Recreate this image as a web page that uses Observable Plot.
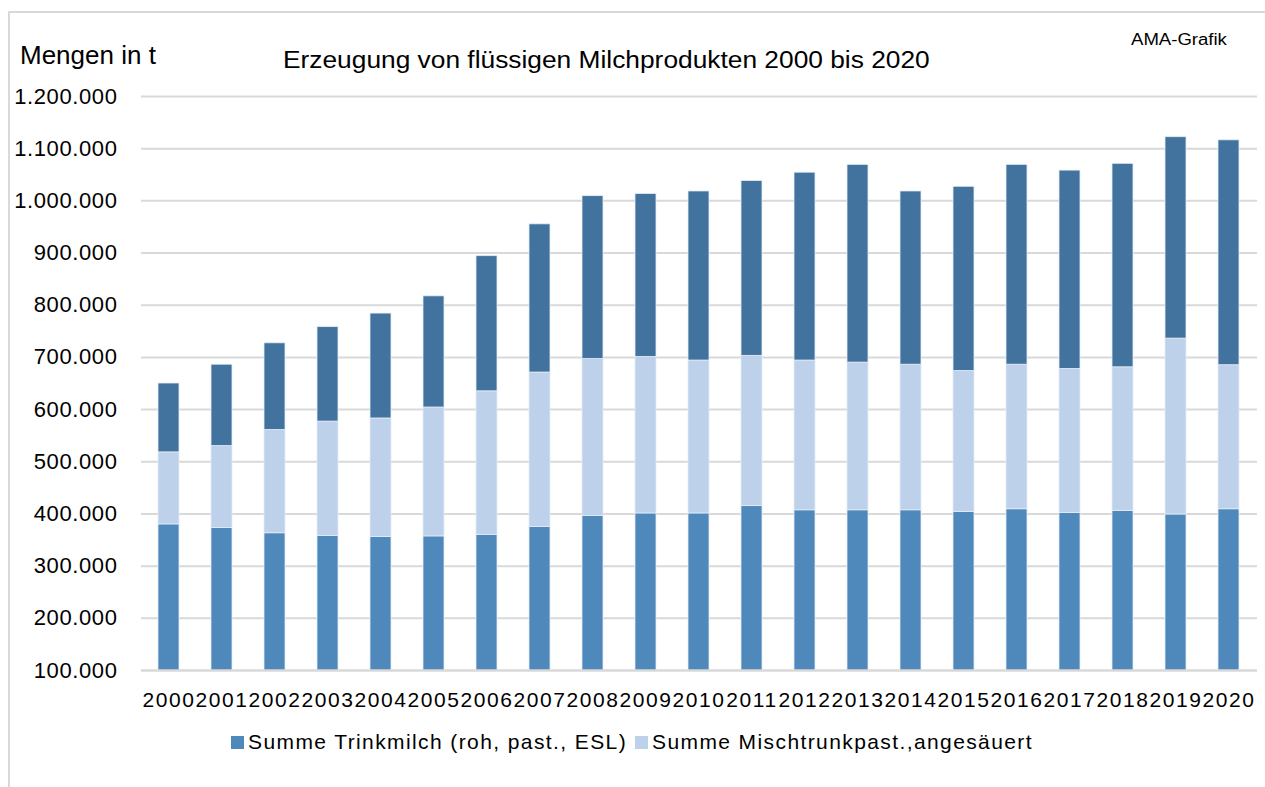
<!DOCTYPE html>
<html>
<head>
<meta charset="utf-8">
<script src="https://cdn.jsdelivr.net/npm/d3@7"></script>
<script src="https://cdn.jsdelivr.net/npm/@observablehq/plot@0.6"></script>
<style>
  html, body { margin: 0; padding: 0; background: #fff; }
  body { width: 1265px; height: 787px; position: relative; overflow: hidden; font-family: "Liberation Sans", Arial, sans-serif; color: #000; }
  .frame { position: absolute; left: 8px; top: 11px; width: 1300px; height: 800px; border-left: 2px solid #d9d9d9; border-top: 2px solid #d9d9d9; }
  .abs { position: absolute; white-space: nowrap; line-height: 1; transform-origin: 0 0; }
  #chart { position: absolute; left: 0; top: 0; }
  #chart g[aria-label="x-axis tick label"] text { letter-spacing: 1.6px; }
  #chart g[aria-label="y-axis tick label"] text { letter-spacing: 0.6px; }
  .legend { position: absolute; top: 730px; left: 231px; display: flex; align-items: center; font-size: 21px; letter-spacing: 1.4px; }
  .legend .sw { width: 13px; height: 13px; display: inline-block; margin-right: 4px; }
  .legend .item { display: flex; align-items: center; margin-right: 8px; }
</style>
</head>
<body>
<div class="frame"></div>
<div class="abs" style="left:20px; top:42px; font-size:26px;">Mengen in t</div>
<div class="abs" style="left:283px; top:49px; font-size:23.5px; transform: scaleX(1.12);">Erzeugung von flüssigen Milchprodukten 2000 bis 2020</div>
<div class="abs" style="left:1131px; top:32px; font-size:16px; transform: scaleX(1.16);">AMA-Grafik</div>
<div id="chart"></div>
<div class="legend" id="legend"></div>
<script>
// Data (tonnes)
const years = ["2000","2001","2002","2003","2004","2005","2006","2007","2008","2009","2010",
               "2011","2012","2013","2014","2015","2016","2017","2018","2019","2020"];
const trinkmilch = [380000, 373000, 363000, 358000, 356000, 357000, 360000, 375000, 396000, 401000, 401000,
                    415000, 407000, 407000, 407000, 404000, 409000, 402000, 406000, 399000, 409000];
const mischtrunk = [138000, 157000, 198000, 219000, 227000, 247000, 275000, 296000, 301000, 300000, 293000,
                    288000, 287000, 283000, 279000, 270000, 277000, 276000, 275000, 337000, 276000];
const sonstige   = [132000, 156000, 166000, 181000, 201000, 213000, 259000, 284000, 312000, 312000, 324000,
                    335000, 360000, 379000, 332000, 353000, 383000, 380000, 390000, 386000, 431000];
const seriesNames = ["Summe Trinkmilch (roh, past., ESL)", "Summe Mischtrunkpast.,angesäuert", "Summe sonstige flüssige Milchprodukte"];
const seriesColors = ["#4f88bb", "#bdd1ea", "#42739f"];
const legendNames = seriesNames.slice(0, 2);
const yTicks = [100000, 200000, 300000, 400000, 500000, 600000, 700000, 800000, 900000, 1000000, 1100000, 1200000];

const rows = [];
const seriesValues = [trinkmilch, mischtrunk, sonstige];
years.forEach((yr, i) => {
  seriesValues.forEach((vals, s) => rows.push({year: yr, series: seriesNames[s], value: vals[i]}));
});

const de = d3.formatLocale({decimal: ",", thousands: ".", grouping: [3], currency: ["", " €"]});
const fmt = de.format(",.0f");

const chart = Plot.plot({
  width: 1265,
  height: 730,
  marginLeft: 141,
  marginRight: 8,
  marginTop: 96,
  marginBottom: 60,
  style: {fontFamily: "Liberation Sans, Arial, sans-serif", fontSize: "22px", color: "#000", background: "transparent", overflow: "visible"},
  x: {domain: years, paddingInner: 0.6, paddingOuter: 0.3, label: null},
  y: {domain: [100000, 1200000], ticks: yTicks, tickFormat: fmt, label: null},
  color: {domain: seriesNames, range: seriesColors},
  marks: [
    Plot.ruleY(yTicks.slice(1), {stroke: "#d9d9d9", strokeWidth: 2}),
    Plot.barY(rows, {x: "year", y: "value", fill: "series", stroke: "#e4ecf6", strokeWidth: 0.8, clip: true}),
    Plot.ruleY([100000], {stroke: "#d9d9d9", strokeWidth: 2.5}),
    Plot.axisY({ticks: yTicks, tickFormat: fmt, tickSize: 0, tickPadding: 24, fontSize: 22, label: null}),
    Plot.axisX({tickSize: 0, tickPadding: 22, fontSize: 21, label: null})
  ]
});
document.getElementById("chart").appendChild(chart);

const legend = document.getElementById("legend");
legendNames.forEach((name, i) => {
  const item = document.createElement("div");
  item.className = "item";
  const sw = document.createElement("span");
  sw.className = "sw";
  sw.style.background = seriesColors[i];
  const t = document.createElement("span");
  t.textContent = name;
  item.appendChild(sw);
  item.appendChild(t);
  legend.appendChild(item);
});
</script>
</body>
</html>
